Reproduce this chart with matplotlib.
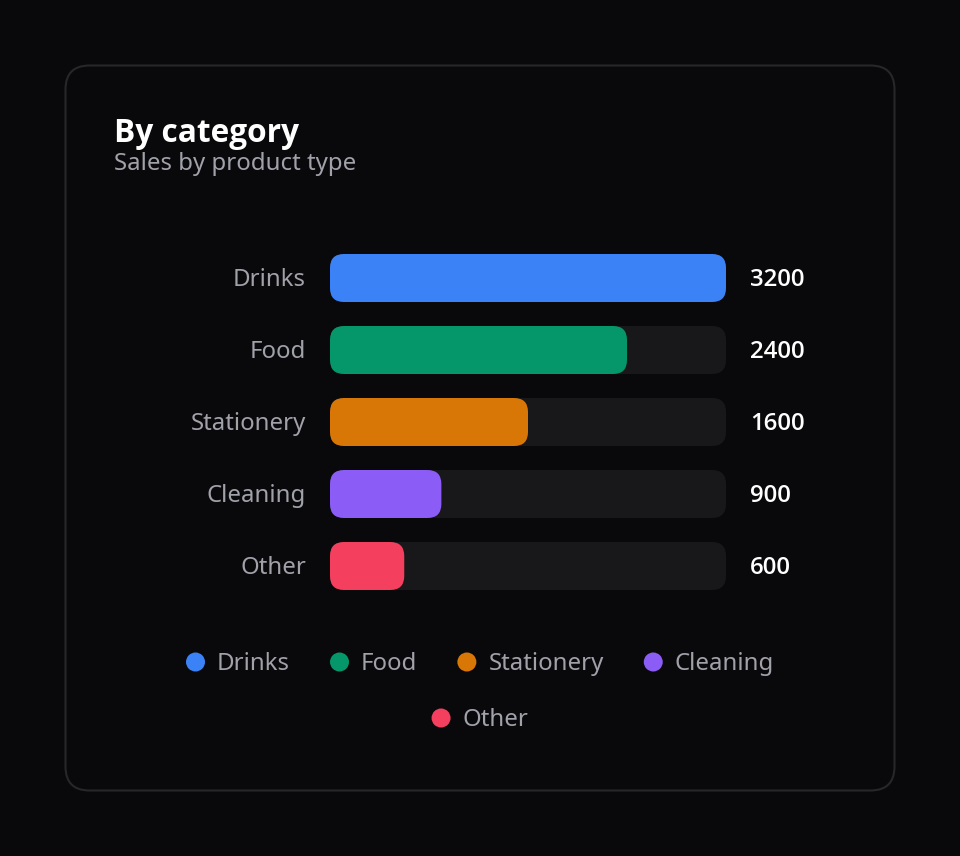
import matplotlib
matplotlib.use("Agg")
import matplotlib.pyplot as plt
from matplotlib import font_manager as fm
from matplotlib.patches import FancyBboxPatch, Circle
from matplotlib.transforms import offset_copy

categories = ["Drinks", "Food", "Stationery", "Cleaning", "Other"]
values = [3200, 2400, 1600, 900, 600]
colors = ["#3b82f6", "#059669", "#d97706", "#8b5cf6", "#f43f5e"]
title = "By category"
subtitle = "Sales by product type"

BG = "#09090b"
CARD_EDGE = "#27272a"
TRACK = "#18181b"
LABEL = "#a1a1aa"
W, H = 960, 856
DPI = 100


def weights_of(name):
    return {f.weight for f in fm.fontManager.ttflist if f.name == name}


def num(w):
    m = {"bold": 700, "semibold": 600, "demibold": 600, "medium": 500, "normal": 400, "regular": 400}
    return w if isinstance(w, int) else m.get(str(w).lower(), 400)


def pick(weight_ok):
    for fam in ["Noto Sans", "Open Sans", "Lato", "DejaVu Sans"]:
        if any(weight_ok(num(w)) for w in weights_of(fam)):
            return fam
    return "DejaVu Sans"


BOLD_FAM = pick(lambda w: w >= 700)
SEMI_FAM = pick(lambda w: 550 <= w <= 650)
if SEMI_FAM == "DejaVu Sans":
    SEMI_FAM, SEMI_W = BOLD_FAM, 700
else:
    SEMI_W = 600

plt.rcParams['font.family'] = ['Noto Sans', 'DejaVu Sans']

fig = plt.figure(figsize=(W / DPI, H / DPI), dpi=DPI, facecolor=BG)

bg = fig.add_axes([0, 0, 1, 1])
bg.set_xlim(0, W)
bg.set_ylim(H, 0)
bg.axis("off")
bg.set_facecolor(BG)

card = FancyBboxPatch((65.5, 65.5), 829, 725, boxstyle="round,pad=0,rounding_size=24",
                      facecolor=BG, edgecolor=CARD_EDGE, linewidth=1.5)
bg.add_patch(card)

px = 72 / DPI  # points per pixel
TXT = 24 * px
bg.text(114, 142, title, color="white", fontsize=31.6 * px, fontweight=700,
        family=[BOLD_FAM, "DejaVu Sans"], va="baseline", ha="left")
bg.text(114, 170, subtitle, color=LABEL, fontsize=TXT, va="baseline", ha="left")

ax_left, ax_right = 330, 726
row_h = 72
top = 278 - row_h / 2
bottom = 566 + row_h / 2
ax = fig.add_axes([ax_left / W, (H - bottom) / H, (ax_right - ax_left) / W, (bottom - top) / H])
ax.axis("off")
vmax = max(values)
ax.set_xlim(0, vmax)
ax.set_ylim(len(categories) - 0.5, -0.5)

bar_h = 48 / row_h
radius_px = 14
x_per_px = vmax / (ax_right - ax_left)
y_per_px = 1 / row_h
aspect = y_per_px / x_per_px

for i, (cat, v, c) in enumerate(zip(categories, values, colors)):
    track = FancyBboxPatch((0, i - bar_h / 2), vmax, bar_h,
                           boxstyle=f"round,pad=0,rounding_size={radius_px * x_per_px}",
                           mutation_aspect=aspect, facecolor=TRACK, edgecolor="none")
    ax.add_patch(track)
    bar = FancyBboxPatch((0, i - bar_h / 2), v, bar_h,
                         boxstyle=f"round,pad=0,rounding_size={radius_px * x_per_px}",
                         mutation_aspect=aspect, facecolor=c, edgecolor="none")
    ax.add_patch(bar)
    ax.text(0, i, cat, color=LABEL, fontsize=TXT, ha="right", va="center_baseline",
            transform=offset_copy(ax.transData, fig=fig, x=-24, y=1, units="dots"))
    ax.text(vmax, i, f"{v}", color="white", fontsize=TXT, fontweight=SEMI_W,
            family=[SEMI_FAM, "DejaVu Sans"], ha="left", va="center_baseline",
            transform=offset_copy(ax.transData, fig=fig, x=24, y=1, units="dots"))

# legend laid out in pixel coordinates, wrapped and centered
fig.canvas.draw()
renderer = fig.canvas.get_renderer()
dot_d = 19
gap_dot_text = 12
item_gap = 40
max_row_w = 640
center_x = 480
row_ys = [662, 718]

items = []
for cat, c in zip(categories, colors):
    t = bg.text(0, 0, cat, fontsize=TXT, color=LABEL)
    w = t.get_window_extent(renderer).width
    t.remove()
    items.append((cat, c, dot_d + gap_dot_text + w))

rows = [[]]
cur = 0
for it in items:
    add = it[2] + (item_gap if rows[-1] else 0)
    if rows[-1] and cur + add > max_row_w:
        rows.append([])
        cur = 0
        add = it[2]
    rows[-1].append(it)
    cur += add

for r, row in enumerate(rows):
    total = sum(it[2] for it in row) + item_gap * (len(row) - 1)
    x = center_x - total / 2
    y = row_ys[r]
    for cat, c, w in row:
        bg.add_patch(Circle((x + dot_d / 2, y), dot_d / 2, facecolor=c, edgecolor="none"))
        bg.text(x + dot_d + gap_dot_text, y - 1, cat, fontsize=TXT, color=LABEL,
                ha="left", va="center_baseline")
        x += w + item_gap

fig.savefig("out.png", dpi=DPI, facecolor=BG)
